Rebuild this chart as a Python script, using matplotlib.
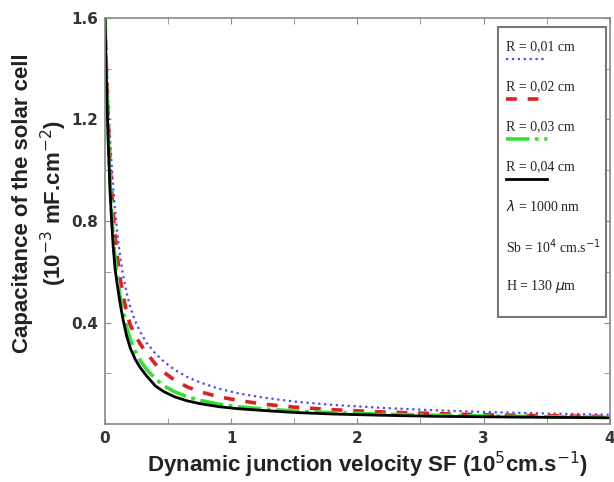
import matplotlib
matplotlib.use("Agg")
import matplotlib.pyplot as plt
from matplotlib.lines import Line2D
from matplotlib.patches import Rectangle

# dynamic junction velocity SF (10^5 cm/s)
sf = [0, 0.01, 0.02, 0.03, 0.04, 0.05, 0.065, 0.08, 0.1, 0.12, 0.14, 0.17, 0.2, 0.24,
      0.28, 0.33, 0.4, 0.47, 0.55, 0.65, 0.75, 0.9, 1.05, 1.25, 1.5, 1.8, 2.2, 2.6,
      3.0, 3.5, 4.0]

# capacitance (10^-3 mF/cm^2) for each grain radius R
cap_r01 = [1.6, 1.46, 1.34, 1.23, 1.13, 1.04, 0.93, 0.84, 0.74, 0.66, 0.595, 0.52, 0.46,
           0.405, 0.362, 0.32, 0.278, 0.245, 0.215, 0.186, 0.165, 0.14, 0.122, 0.105,
           0.089, 0.076, 0.064, 0.055, 0.048, 0.042, 0.037]
cap_r02 = [1.6, 1.42, 1.27, 1.14, 1.03, 0.94, 0.83, 0.74, 0.65, 0.575, 0.515, 0.445, 0.39,
           0.35, 0.315, 0.28, 0.236, 0.203, 0.174, 0.147, 0.128, 0.108, 0.094, 0.079,
           0.067, 0.057, 0.048, 0.042, 0.037, 0.033, 0.030]
cap_r03 = [1.6, 1.4, 1.23, 1.08, 0.96, 0.86, 0.74, 0.65, 0.565, 0.5, 0.45, 0.385, 0.335,
           0.285, 0.25, 0.215, 0.178, 0.15, 0.128, 0.108, 0.094, 0.079, 0.069, 0.06,
           0.052, 0.045, 0.039, 0.035, 0.032, 0.029, 0.027]
cap_r04 = [1.6, 1.38, 1.2, 1.05, 0.92, 0.82, 0.70, 0.61, 0.54, 0.475, 0.42, 0.35, 0.30,
           0.255, 0.222, 0.19, 0.15, 0.127, 0.108, 0.092, 0.081, 0.069, 0.061, 0.054,
           0.046, 0.040, 0.035, 0.031, 0.029, 0.027, 0.025]

series = [
    ("R = 0,01 cm", cap_r01, dict(color="#4a4aff", ls=":", lw=1.6)),
    ("R = 0,02 cm", cap_r02, dict(color="#e02020", ls=(0, (3, 3)), lw=2.6)),
    ("R = 0,03 cm", cap_r03, dict(color="#33e033", ls="-.", lw=2.6)),
    ("R = 0,04 cm", cap_r04, dict(color="black", ls="-", lw=2.0)),
]
extra_text = [r"$\lambda$ = 1000 nm", r"Sb = 10$^4$ cm.s$^{-1}$", r"H = 130 $\mu$m"]

fig = plt.figure(figsize=(6.14, 4.82), dpi=100)
ax = fig.add_axes([0.171, 0.12, 0.822, 0.843])

for lab, vals, st in series:
    ax.plot(sf, vals, **st)

ax.set_xlim(0, 4)
ax.set_ylim(0, 1.6)
ax.set_xticks([0, 1, 2, 3, 4])
ax.set_xticks([0.5, 1.5, 2.5, 3.5], minor=True)
ax.set_yticks([0.4, 0.8, 1.2, 1.6])
ax.set_yticks([0.2, 0.6, 1.0, 1.4], minor=True)
ax.tick_params(which="both", direction="in", top=True, right=True, length=4,
               color="#888888")
ax.tick_params(axis="both", labelsize=11, pad=5)
for t in ax.get_xticklabels() + ax.get_yticklabels():
    t.set_fontweight("bold")
    t.set_color("#333333")
for s in ax.spines.values():
    s.set_color("#888888")
    s.set_linewidth(1.2)

lab_kw = dict(fontsize=16, fontweight="bold", family="Liberation Sans", color="#222222")
fig.text(0.036, 0.579, "Capacitance of the solar cell", rotation=90,
         ha="center", va="center", **lab_kw)
fig.text(0.088, 0.579, r"(10$^{-3}$ mF.cm$^{-2}$)", rotation=90,
         ha="center", va="center", **lab_kw)
fig.text(0.598, 0.036, r"Dynamic junction velocity SF (10$^5$cm.s$^{-1}$)",
         ha="center", va="center", **lab_kw)

# legend box drawn by hand in axes fraction coords
bx0, bx1, by0, by1 = 0.778, 0.992, 0.264, 0.978
ax.add_patch(Rectangle((bx0, by0), bx1 - bx0, by1 - by0, transform=ax.transAxes,
                       facecolor="white", edgecolor="#777777", lw=1.5, zorder=5))
ty = 0.929
step = 0.0985
for lab, vals, st in series:
    ax.text(bx0 + 0.016, ty, lab, transform=ax.transAxes, fontsize=10,
            family="Liberation Serif", va="center", zorder=6, color="#222222")
    ax.add_line(Line2D([bx0 + 0.016, bx0 + 0.097], [ty - 0.03, ty - 0.03],
                       transform=ax.transAxes, zorder=6, **st))
    ty -= step
for lab in extra_text:
    ax.text(bx0 + 0.016, ty, lab, transform=ax.transAxes, fontsize=10,
            family="Liberation Serif", va="center", zorder=6, color="#222222")
    ty -= step

fig.savefig("out.png", dpi=100)
